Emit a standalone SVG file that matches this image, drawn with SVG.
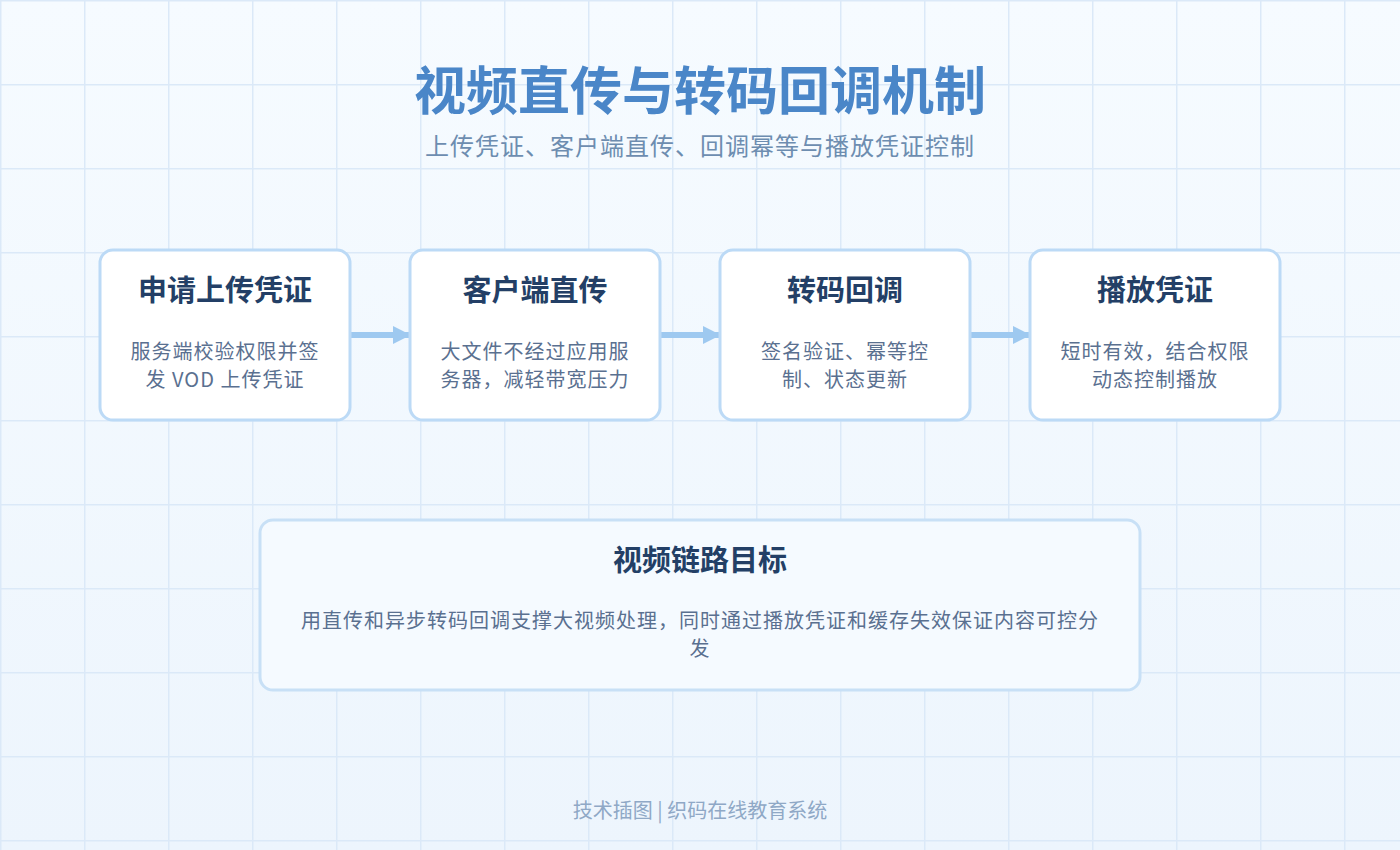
<svg xmlns="http://www.w3.org/2000/svg" width="1400" height="850" viewBox="0 0 1400 850">
<defs>
<linearGradient id="bg" x1="0" y1="0" x2="0" y2="1">
<stop offset="0" stop-color="#f6fbff"/>
<stop offset="1" stop-color="#edf5fd"/>
</linearGradient>
<pattern id="grid" x="0" y="0" width="84" height="84" patternUnits="userSpaceOnUse">
<path d="M0 0 H84 M0 0 V84" fill="none" stroke="#dbe9f8" stroke-width="3"/>
</pattern>
<marker id="arr" viewBox="0 0 10 10" refX="9" refY="5" markerWidth="3" markerHeight="3" orient="auto" markerUnits="strokeWidth">
<path d="M0 0 L10 5 L0 10 Z" fill="#9ec9f0"/>
</marker>
</defs>
<style>
.node rect{fill:#ffffff;stroke:#bcdaf6;stroke-width:3}
.t{font-family:"Noto Sans CJK SC","Noto Sans",sans-serif;text-anchor:middle}
.nt{font-size:29px;font-weight:700;fill:#233f66}
.nd{font-size:20px;fill:#5a7090;letter-spacing:1px}
.conn line{stroke:#9ec9f0;stroke-width:6}
</style>
<rect width="1400" height="850" fill="url(#bg)"/>
<rect width="1400" height="850" fill="url(#grid)"/>
<text class="t" x="700" y="110" font-size="52" font-weight="700" fill="#4a86c8">视频直传与转码回调机制</text>
<text class="t" x="700" y="155" font-size="24" fill="#6d8db0" letter-spacing="1">上传凭证、客户端直传、回调幂等与播放凭证控制</text>
<g id="connectors" class="conn">
<line x1="351" y1="335" x2="409" y2="335" marker-end="url(#arr)"/>
<line x1="661" y1="335" x2="719" y2="335" marker-end="url(#arr)"/>
<line x1="971" y1="335" x2="1029" y2="335" marker-end="url(#arr)"/>
</g>
<g id="node1" class="node">
<rect x="100" y="250" width="250" height="170" rx="13"/>
<text class="t nt" x="225" y="301">申请上传凭证</text>
<text class="t nd" x="225" y="359">服务端校验权限并签</text>
<text class="t nd" x="225" y="387">发 VOD 上传凭证</text>
</g>
<g id="node2" class="node">
<rect x="410" y="250" width="250" height="170" rx="13"/>
<text class="t nt" x="535" y="301">客户端直传</text>
<text class="t nd" x="535" y="359">大文件不经过应用服</text>
<text class="t nd" x="535" y="387">务器，减轻带宽压力</text>
</g>
<g id="node3" class="node">
<rect x="720" y="250" width="250" height="170" rx="13"/>
<text class="t nt" x="845" y="301">转码回调</text>
<text class="t nd" x="845" y="359">签名验证、幂等控</text>
<text class="t nd" x="845" y="387">制、状态更新</text>
</g>
<g id="node4" class="node">
<rect x="1030" y="250" width="250" height="170" rx="13"/>
<text class="t nt" x="1155" y="301">播放凭证</text>
<text class="t nd" x="1155" y="359">短时有效，结合权限</text>
<text class="t nd" x="1155" y="387">动态控制播放</text>
</g>
<g id="goal">
<rect x="260" y="520" width="880" height="170" rx="13" fill="#f5faff" stroke="#c8e0f6" stroke-width="3"/>
<text class="t nt" x="700" y="571">视频链路目标</text>
<text class="t nd" x="700" y="628" letter-spacing="0.6">用直传和异步转码回调支撑大视频处理，同时通过播放凭证和缓存失效保证内容可控分</text>
<text class="t nd" x="700" y="656">发</text>
</g>
<text class="t" x="700" y="818" font-size="20" fill="#8fa8c6">技术插图 | 织码在线教育系统</text>
</svg>
